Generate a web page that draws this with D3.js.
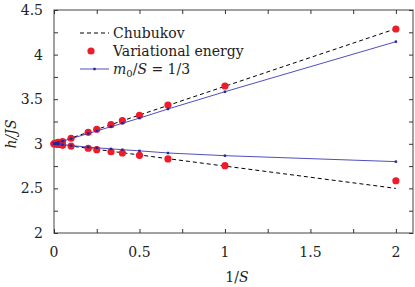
<!DOCTYPE html>
<html>
<head>
<meta charset="utf-8">
<script src="https://cdn.jsdelivr.net/npm/d3@7"></script>
<style>
  body { margin: 0; background: #fff; }
</style>
</head>
<body>
<div id="chart"></div>
<script>
// 1/S values where the data were computed
const invS = [0, 0.01, 0.025, 0.05, 0.1, 0.2, 0.25, 1/3, 0.4, 0.5, 2/3, 1, 2];

// variational energy (red dots), upper and lower branch
const varUpper = [3.0, 3.007, 3.016, 3.026, 3.062, 3.129, 3.163, 3.214, 3.259, 3.319, 3.435, 3.648, 4.287];
const varLower = [3.0, 2.997, 2.992, 2.983, 2.975, 2.950, 2.934, 2.911, 2.897, 2.871, 2.830, 2.755, 2.586];

// m0/S = 1/3 (blue line with small markers)
const mUpper = [3.0, 3.006, 3.014, 3.029, 3.058, 3.115, 3.144, 3.192, 3.230, 3.288, 3.390, 3.584, 4.145];
const mLower = [3.0, 2.998, 2.996, 2.990, 2.980, 2.963, 2.955, 2.943, 2.934, 2.921, 2.897, 2.867, 2.800];

// Chubukov (dashed straight lines)
const chubX = [0, 2];
const chubUpper = [3.0, 4.29];
const chubLower = [3.0, 2.50];

const xTicks = [0, 0.5, 1, 1.5, 2];
const yTicks = [2, 2.5, 3, 3.5, 4, 4.5];

const W = 415, H = 287;
const margin = {top: 10, right: 2, bottom: 54, left: 54};
const width = W - margin.left - margin.right;
const height = H - margin.top - margin.bottom;
const FONT = '"DejaVu Serif", "Times New Roman", serif';
const FS = 14;

const svg = d3.select('#chart').append('svg')
    .attr('width', W)
    .attr('height', H)
    .style('font-family', FONT);

const chart = svg.append('g')
    .attr('transform', `translate(${margin.left},${margin.top})`);

const x = d3.scaleLinear().domain([0, 2.1]).range([0, width]);
const y = d3.scaleLinear().domain([2, 4.5]).range([height, 0]);

// frame
chart.append('rect')
    .attr('width', width).attr('height', height)
    .attr('fill', 'none').attr('stroke', '#7a7a7a').attr('stroke-width', 1.4);

// ticks, mirrored on all sides, pointing inward
const xMinor = d3.range(0, 2.01, 0.25);
const yMinor = d3.range(2, 4.51, 0.25);
const tickCol = '#333';
chart.append('g').call(d3.axisBottom(x).tickValues(xMinor).tickSize(-4).tickFormat(''))
    .attr('transform', `translate(0,${height})`)
    .call(g => g.select('.domain').remove())
    .selectAll('line').attr('stroke', tickCol);
chart.append('g').call(d3.axisTop(x).tickValues(xMinor).tickSize(-4).tickFormat(''))
    .call(g => g.select('.domain').remove())
    .selectAll('line').attr('stroke', tickCol);
chart.append('g').call(d3.axisLeft(y).tickValues(yMinor).tickSize(-4).tickFormat(''))
    .call(g => g.select('.domain').remove())
    .selectAll('line').attr('stroke', tickCol);
chart.append('g').call(d3.axisRight(y).tickValues(yMinor).tickSize(-4).tickFormat(''))
    .attr('transform', `translate(${width},0)`)
    .call(g => g.select('.domain').remove())
    .selectAll('line').attr('stroke', tickCol);

// tick labels
chart.selectAll('.xlab').data(xTicks).join('text')
    .attr('class', 'xlab')
    .style('font-family', FONT)
    .attr('x', d => x(d)).attr('y', height + 24)
    .attr('text-anchor', 'middle')
    .attr('font-size', FS).attr('fill', '#222')
    .text(d => d);
chart.selectAll('.ylab').data(yTicks).join('text')
    .attr('class', 'ylab')
    .style('font-family', FONT)
    .attr('x', -11).attr('y', d => y(d) + 5)
    .attr('text-anchor', 'end')
    .attr('font-size', FS).attr('fill', '#222')
    .text(d => d);

// axis titles
svg.append('text')
    .style('font-family', FONT)
    .attr('x', margin.left + x(1.07)).attr('y', 282)
    .attr('text-anchor', 'middle')
    .attr('font-size', FS).attr('fill', '#222')
    .html('1/<tspan font-style="italic">S</tspan>');
svg.append('text')
    .style('font-family', FONT)
    .attr('transform', 'translate(16,134) rotate(-90)')
    .attr('text-anchor', 'middle')
    .attr('font-size', FS).attr('fill', '#222')
    .attr('font-style', 'italic')
    .text('h/JS');

const line = d3.line().x(d => x(d[0])).y(d => y(d[1]));

// Chubukov dashed
[chubUpper, chubLower].forEach(vals => {
    chart.append('path')
        .attr('d', line(chubX.map((v, i) => [v, vals[i]])))
        .attr('fill', 'none').attr('stroke', '#000')
        .attr('stroke-width', 1).attr('stroke-dasharray', '4,3');
});

// variational energy dots
[varUpper, varLower].forEach(vals => {
    chart.append('g').selectAll('circle')
        .data(invS.map((v, i) => [v, vals[i]]))
        .join('circle')
        .attr('cx', d => x(d[0])).attr('cy', d => y(d[1]))
        .attr('r', 3.6).attr('fill', '#ec1c2a');
});

// m0/S = 1/3 blue lines with markers
[mUpper, mLower].forEach(vals => {
    const pts = invS.map((v, i) => [v, vals[i]]);
    chart.append('path')
        .attr('d', line(pts))
        .attr('fill', 'none').attr('stroke', '#3b3bb3').attr('stroke-width', 0.9);
    chart.append('g').selectAll('rect')
        .data(pts).join('rect')
        .attr('x', d => x(d[0]) - 1.2).attr('y', d => y(d[1]) - 1.2)
        .attr('width', 2.4).attr('height', 2.4).attr('fill', '#23239a');
});

// legend
const leg = svg.append('g').style('font-family', FONT);
const lx0 = 80, lx1 = 109, tx = 113;
const rows = [33, 51, 69];
leg.append('line').attr('x1', lx0).attr('x2', lx1).attr('y1', rows[0]).attr('y2', rows[0])
    .attr('stroke', '#000').attr('stroke-dasharray', '4,3');
leg.append('circle').attr('cx', 91).attr('cy', rows[1]).attr('r', 3.6).attr('fill', '#ec1c2a');
leg.append('line').attr('x1', lx0).attr('x2', lx1).attr('y1', rows[2]).attr('y2', rows[2])
    .attr('stroke', '#3b3bb3').attr('stroke-width', 0.9);
leg.append('rect').attr('x', 94.5 - 1.2).attr('y', rows[2] - 1.2).attr('width', 2.4).attr('height', 2.4).attr('fill', '#23239a');
leg.append('text').attr('x', tx).attr('y', rows[0] + 5).attr('font-size', FS).attr('fill', '#222').text('Chubukov');
leg.append('text').attr('x', tx).attr('y', rows[1] + 5).attr('font-size', FS).attr('fill', '#222').text('Variational energy');
leg.append('text').attr('x', tx).attr('y', rows[2] + 5).attr('font-size', FS).attr('fill', '#222')
    .html('<tspan font-style="italic">m</tspan><tspan font-size="10" dy="3">0</tspan><tspan dy="-3">/</tspan><tspan font-style="italic">S</tspan> = 1/3');
</script>
</body>
</html>
